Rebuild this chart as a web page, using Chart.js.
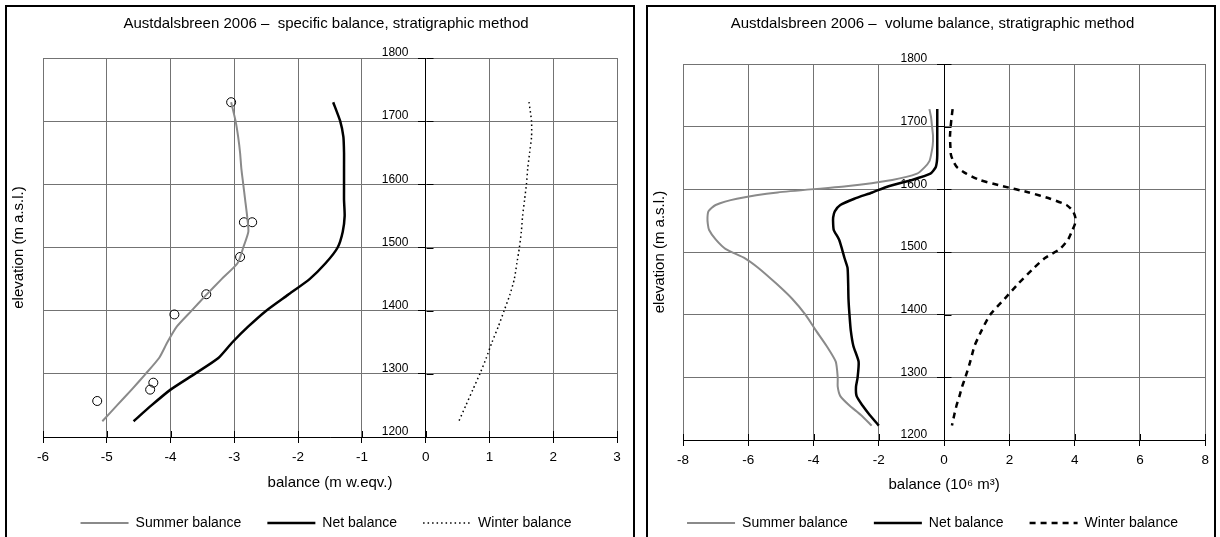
<!DOCTYPE html>
<html>
<head>
<meta charset="utf-8">
<title>Austdalsbreen 2006 – mass balance</title>
<script src="https://cdn.jsdelivr.net/npm/chart.js@4/dist/chart.umd.min.js"></script>
<style>
  html, body { margin: 0; padding: 0; background: #fff; width: 1220px; height: 537px; overflow: hidden; }
  canvas { position: absolute; top: 0; }
  #specific { left: 0; }
  #volume { left: 640px; }
  .frame { position: absolute; top: 5px; height: 600px; border: 2px solid #000; pointer-events: none; }
  #frameL { left: 5px; width: 626px; }
  #frameR { left: 646px; width: 566px; }
</style>
</head>
<body>
<canvas id="specific" width="634" height="545"></canvas>
<canvas id="volume" width="575" height="545"></canvas>
<div class="frame" id="frameL"></div>
<div class="frame" id="frameR"></div>
<script>
// ---- Specific balance (m w.eq.) against elevation (m a.s.l.) ----
const specElevation = [1730, 1700, 1675, 1650, 1625, 1600, 1575, 1550, 1525, 1500, 1475,
                       1450, 1425, 1400, 1375, 1350, 1325, 1300, 1275, 1250, 1225];
const specSummer = [-3.05, -2.98, -2.94, -2.91, -2.89, -2.86, -2.83, -2.80, -2.78, -2.86, -2.95,
                    -3.20, -3.44, -3.67, -3.90, -4.05, -4.18, -4.39, -4.61, -4.84, -5.07];
const specNet = [-1.45, -1.34, -1.29, -1.28, -1.28, -1.28, -1.28, -1.27, -1.30, -1.38, -1.57,
                 -1.82, -2.16, -2.50, -2.78, -3.03, -3.25, -3.62, -4.00, -4.30, -4.58];
const specWinter = [1.62, 1.66, 1.66, 1.63, 1.60, 1.58, 1.55, 1.52, 1.50, 1.47, 1.43,
                    1.39, 1.32, 1.23, 1.14, 1.04, 0.95, 0.85, 0.74, 0.63, 0.52];

// Summer balance measured at the stakes
const stakeElevation = [1730, 1540, 1540, 1485, 1426, 1394, 1286, 1275, 1257];
const stakeSummer = [-3.05, -2.85, -2.72, -2.91, -3.44, -3.94, -4.27, -4.32, -5.15];

// ---- Volume balance (10^6 m^3) against elevation (m a.s.l.) ----
const volElevation = [1728, 1715, 1700, 1685, 1670, 1655, 1645, 1635, 1625, 1615, 1605, 1595,
                      1585, 1575, 1565, 1555, 1545, 1535, 1520, 1505, 1490, 1475, 1450, 1425,
                      1400, 1375, 1350, 1325, 1300, 1285, 1270, 1255, 1240, 1223];
const volSummer = [-0.45, -0.40, -0.37, -0.34, -0.35, -0.40, -0.45, -0.60, -0.83, -1.59, -3.00, -5.10,
                   -6.35, -7.00, -7.22, -7.25, -7.24, -7.20, -7.00, -6.70, -6.10, -5.70, -5.15, -4.65,
                   -4.25, -3.93, -3.60, -3.32, -3.26, -3.26, -3.18, -2.90, -2.55, -2.22];
const volNet = [-0.21, -0.21, -0.21, -0.21, -0.21, -0.21, -0.22, -0.26, -0.42, -0.98, -1.70, -2.20,
                -2.75, -3.18, -3.35, -3.40, -3.40, -3.38, -3.22, -3.13, -3.05, -2.96, -2.94, -2.93,
                -2.90, -2.86, -2.78, -2.62, -2.65, -2.70, -2.68, -2.50, -2.28, -2.00];
const volWinter = [0.26, 0.23, 0.20, 0.18, 0.19, 0.21, 0.28, 0.40, 0.68, 1.09, 1.80, 2.60,
                   3.25, 3.75, 3.95, 4.02, 4.01, 3.93, 3.80, 3.55, 3.08, 2.76, 2.28, 1.85,
                   1.41, 1.15, 0.93, 0.80, 0.65, 0.55, 0.47, 0.38, 0.31, 0.24];

// ---- Axis ticks ----
const elevationTicks = [1200, 1300, 1400, 1500, 1600, 1700, 1800];
const specBalanceTicks = [-6, -5, -4, -3, -2, -1, 0, 1, 2, 3];
const volBalanceTicks = [-8, -6, -4, -2, 0, 2, 4, 6, 8];

const FONT = "'Liberation Sans', Arial, Helvetica, sans-serif";
Chart.defaults.font.family = FONT;
Chart.defaults.color = '#000';

const GRID = '#737373';
const SUMMER = '#8a8a8a';

const toPoints = (values, elevations) => values.map((v, i) => ({ x: v, y: elevations[i] }));
const tickList = arr => scale => { scale.ticks = arr.map(v => ({ value: v })); };
const plain = v => String(v);

// Black cross ticks on the elevation axis (right side) and above the balance axis
const crossTicks = {
  id: 'crossTicks',
  beforeDatasetsDraw(chart) {
    const { ctx, scales: { x, y } } = chart;
    const x0 = Math.round(x.getPixelForValue(0)) + 0.5;
    ctx.save();
    ctx.strokeStyle = '#000';
    ctx.lineWidth = 1;
    ctx.beginPath();
    y.ticks.forEach(t => {
      const py = Math.round(y.getPixelForValue(t.value)) + 0.5;
      ctx.moveTo(x0, py);
      ctx.lineTo(x0 + 7, py);
    });
    x.ticks.forEach(t => {
      const px = Math.round(x.getPixelForValue(t.value)) + 0.5;
      ctx.moveTo(px, y.bottom);
      ctx.lineTo(px, y.bottom - 6);
    });
    ctx.stroke();
    ctx.restore();
  }
};

// Legend entries drawn as line samples with each series' own dash pattern
function lineLegendLabels(chart) {
  return Chart.defaults.plugins.legend.labels.generateLabels(chart)
    .filter(item => item.text !== 'Stakes')
    .map(item => {
      const ds = chart.data.datasets[item.datasetIndex];
      item.lineDash = ds.borderDash || [];
      item.lineWidth = ds.borderWidth;
      item.strokeStyle = ds.borderColor;
      item.pointStyle = 'line';
      return item;
    });
}

function balanceChart(id, o) {
  return new Chart(document.getElementById(id), {
    type: 'scatter',
    data: { datasets: o.datasets },
    options: {
      responsive: false,
      animation: false,
      events: [],
      layout: { padding: o.padding },
      elements: { line: { tension: 0.2 } },
      plugins: {
        tooltip: { enabled: false },
        title: {
          display: true,
          text: o.title,
          color: '#000',
          font: { size: 15, weight: 'normal' },
          padding: o.titlePadding
        },
        legend: {
          position: 'bottom',
          labels: {
            usePointStyle: true,
            pointStyle: 'line',
            pointStyleWidth: 48,
            padding: 26,
            color: '#000',
            font: { size: 14 },
            generateLabels: lineLegendLabels
          }
        }
      },
      scales: {
        x: {
          type: 'linear',
          position: 'bottom',
          min: o.xTicks[0],
          max: o.xTicks[o.xTicks.length - 1],
          afterBuildTicks: tickList(o.xTicks),
          afterFit: s => { s.height = o.xAxisHeight; },
          grid: { color: GRID, lineWidth: 1, tickColor: '#000', tickLength: 6 },
          border: { color: '#000', width: 1 },
          ticks: { padding: 6, font: { size: 13.5 }, color: '#000', callback: plain },
          title: {
            display: true,
            text: o.xTitle,
            font: { size: 15 },
            padding: { top: 0, bottom: o.xTitlePad }
          }
        },
        // elevation axis crossing the balance axis at zero
        y: {
          type: 'linear',
          position: { x: 0 },
          min: 1200,
          max: 1800,
          afterBuildTicks: tickList(elevationTicks),
          grid: { color: GRID, lineWidth: 1, tickColor: '#000', tickLength: 7 },
          border: { color: '#000', width: 1 },
          ticks: { display: false }
        },
        // elevation tick labels, set a little to the left of the zero line
        yLabels: {
          type: 'linear',
          position: { x: o.labelAt },
          min: 1200,
          max: 1800,
          afterBuildTicks: tickList(elevationTicks),
          grid: { display: false, drawTicks: false },
          border: { display: false },
          ticks: { labelOffset: -5, font: { size: 12 }, color: '#000', callback: plain }
        },
        yTitle: {
          type: 'linear',
          position: 'left',
          min: 1200,
          max: 1800,
          afterFit: s => { s.width = o.yTitleWidth; },
          grid: { display: false, drawTicks: false },
          border: { display: false },
          ticks: { display: false },
          title: {
            display: true,
            text: 'elevation (m a.s.l.)',
            font: { size: 15 },
            padding: { top: o.yTitlePad, bottom: 0 }
          }
        }
      }
    },
    plugins: [crossTicks]
  });
}

balanceChart('specific', {
  title: 'Austdalsbreen 2006 –  specific balance, stratigraphic method',
  xTitle: 'balance (m w.eqv.)',
  xTicks: specBalanceTicks,
  labelAt: -0.27,
  padding: { left: 35, right: 17, top: 0, bottom: 5 },
  titlePadding: { top: 15, bottom: 25 },
  xAxisHeight: 53,
  xTitlePad: -2,
  yTitleWidth: 8,
  yTitlePad: -25,
  datasets: [
    { label: 'Summer balance', data: toPoints(specSummer, specElevation), showLine: true,
      borderColor: SUMMER, backgroundColor: SUMMER, borderWidth: 2, pointRadius: 0, yAxisID: 'y' },
    { label: 'Net balance', data: toPoints(specNet, specElevation), showLine: true,
      borderColor: '#000', backgroundColor: '#000', borderWidth: 2.5, pointRadius: 0, yAxisID: 'y' },
    { label: 'Winter balance', data: toPoints(specWinter, specElevation), showLine: true,
      borderColor: '#000', backgroundColor: '#000', borderWidth: 1.5, borderDash: [1.5, 3],
      pointRadius: 0, yAxisID: 'y' },
    { label: 'Stakes', data: toPoints(stakeSummer, stakeElevation), showLine: false,
      pointStyle: 'circle', pointRadius: 4.5, borderColor: '#000', borderWidth: 1,
      backgroundColor: 'rgba(255,255,255,0)', yAxisID: 'y' }
  ]
});

balanceChart('volume', {
  title: 'Austdalsbreen 2006 –  volume balance, stratigraphic method',
  xTitle: 'balance (10⁶ m³)',
  xTicks: volBalanceTicks,
  labelAt: -0.52,
  padding: { left: 17, right: 7, top: 0, bottom: 5 },
  titlePadding: { top: 15, bottom: 31 },
  xAxisHeight: 50,
  xTitlePad: -4,
  yTitleWidth: 26,
  yTitlePad: -6,
  datasets: [
    { label: 'Summer balance', data: toPoints(volSummer, volElevation), showLine: true,
      borderColor: SUMMER, backgroundColor: SUMMER, borderWidth: 2, pointRadius: 0, yAxisID: 'y' },
    { label: 'Net balance', data: toPoints(volNet, volElevation), showLine: true,
      borderColor: '#000', backgroundColor: '#000', borderWidth: 2.5, pointRadius: 0, yAxisID: 'y' },
    { label: 'Winter balance', data: toPoints(volWinter, volElevation), showLine: true,
      borderColor: '#000', backgroundColor: '#000', borderWidth: 2.5, borderDash: [6, 5],
      pointRadius: 0, yAxisID: 'y' }
  ]
});
</script>
</body>
</html>
